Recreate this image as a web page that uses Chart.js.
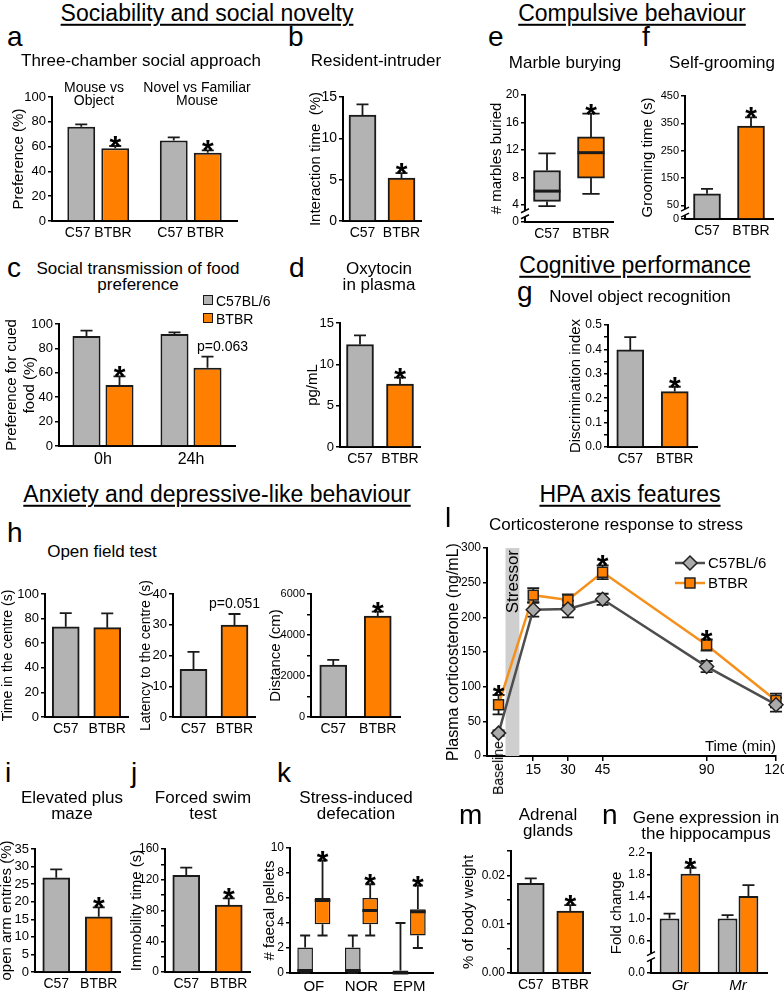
<!DOCTYPE html>
<html>
<head>
<meta charset="utf-8">
<title>BTBR vs C57BL/6 phenotype</title>
<script src="https://cdn.jsdelivr.net/npm/chart.js@4.4.1/dist/chart.umd.min.js"></script>
<style>
  body { margin: 0; background: #fff; }
  #fig { position: relative; width: 784px; height: 992px; overflow: hidden; background: #fff;
         font-family: 'Liberation Sans', Arial, sans-serif; color: #000; }
  #fig canvas { position: absolute; }
  .t { position: absolute; white-space: nowrap; text-align: center; line-height: 1.15; }
  .h { font-size: 23px; text-decoration: underline; text-decoration-thickness: 1.5px; text-underline-offset: 3px; }
  .s { font-size: 17px; line-height: 16px; }
  .u { font-size: 14px; line-height: 13px; }
  .k { font-size: 14px; }
  .L { position: absolute; font-size: 28px; line-height: 28px; }
  .sw { position: absolute; width: 8px; height: 8px; border: 1.5px solid #1a1a1a; }
</style>
</head>
<body>
<div id="fig"></div>
<script>
// ---- data ----
const strains = ['C57', 'BTBR'];

// a  three-chamber social approach (%)
const chamberTests = ['Mouse vs\nObject', 'Novel vs Familiar\nMouse'];
const chamberC57 = [76, 65];
const chamberC57Err = [2, 2.4];
const chamberBTBR = [58.6, 55];
const chamberBTBRErr = [1.9, 1.9];

// b  resident-intruder (%)
const intruder = [12.8, 5.2];
const intruderErr = [1.3, 0.6];

// c  social transmission of food preference (%)
const stfpDelays = ['0h', '24h'];
const stfpC57 = [90.2, 91.8];
const stfpC57Err = [4.3, 1.3];
const stfpBTBR = [50, 64.2];
const stfpBTBRErr = [7, 9];

// d  oxytocin (pg/mL)
const oxytocin = [12.4, 7.6];
const oxytocinErr = [1.1, 0.8];

// e  marble burying, box plots
const marbleLow = [3.8, 5.6];
const marbleQ1 = [4.5, 7.9];
const marbleMed = [6, 11.6];
const marbleQ3 = [9, 13.9];
const marbleHigh = [11.5, 17.3];

// f  self-grooming (s)
const grooming = [92, 340];
const groomingErr = [18, 32];

// g  novel object recognition
const norIndex = [0.398, 0.227];
const norIndexErr = [0.052, 0.02];

// h  open field
const centreTime = [73.4, 72.6];
const centreTimeErr = [11, 11.7];
const centreLatency = [15.5, 29.9];
const centreLatencyErr = [5.7, 3.6];
const distance = [2537, 4927];
const distanceErr = [245, 213];

// i  elevated plus maze
const openArm = [26.8, 15.7];
const openArmErr = [2.4, 2.7];

// j  forced swim
const immobility = [125.8, 87];
const immobilityErr = [10, 8.7];

// k  stress-induced defecation, box plots
const defecationTests = ['OF', 'NOR', 'EPM'];
const pelletsC57Low = [0, 0, 0];
const pelletsC57Q1 = [0, 0, 0];
const pelletsC57Med = [0.2, 0.2, 0];
const pelletsC57Q3 = [2.05, 2.05, 0.2];
const pelletsC57High = [3, 3, 4];
const pelletsBTBRLow = [3, 3, 2];
const pelletsBTBRQ1 = [3.9, 3.9, 3];
const pelletsBTBRMed = [5.8, 5, 4.9];
const pelletsBTBRQ3 = [6, 6, 5.1];
const pelletsBTBRHigh = [9, 7.1, 7];

// l  corticosterone time course (ng/mL)
const cortTimes = [0, 15, 30, 45, 90, 120];
const cortTicks = [15, 30, 45, 90, 120];
const cortC57 = [33, 211, 212, 226, 129, 74];
const cortC57Err = [4, 10, 12, 8, 8, 10];
const cortBTBR = [74, 232, 225, 265, 160, 80];
const cortBTBRErr = [14, 10, 8, 10, 8, 10];
const cortMarks = ['*', '', '', '*', '*', ''];
const stressorWindow = [3, 9];

// m  adrenal glands (% body weight)
const adrenal = [0.0184, 0.0127];
const adrenalErr = [0.001, 0.0012];

// n  hippocampal gene expression (fold change)
const genes = ['Gr', 'Mr'];
const geneC57 = [1.0, 1.0];
const geneC57Err = [0.09, 0.06];
const geneBTBR = [1.82, 1.41];
const geneBTBRErr = [0.11, 0.2];

// ---- styling ----
const GRAY = '#b3b3b3', ORANGE = '#ff8000', INK = '#1a1a1a';
const strainColors = [GRAY, ORANGE];
const FONT = "'Liberation Sans', Arial, sans-serif";

Chart.defaults.font.family = FONT;
Chart.defaults.color = '#000';
Chart.defaults.animation = false;
Chart.defaults.plugins.legend.display = false;
Chart.defaults.plugins.tooltip.enabled = false;

// ---- plugins ----
function whisker(ctx, x, y0, y1, cap) {
  ctx.save();
  ctx.strokeStyle = INK;
  ctx.lineWidth = 1.8;
  ctx.beginPath();
  ctx.moveTo(x, y0); ctx.lineTo(x, y1);
  ctx.moveTo(x - cap, y1); ctx.lineTo(x + cap, y1);
  ctx.stroke();
  ctx.restore();
}

// '*' sits just above the error cap, p-values are plain text
function mark(ctx, m, x, y) {
  const text = typeof m === 'string' ? m : m.text;
  const dx = typeof m === 'string' ? 0 : (m.dx || 0);
  ctx.save();
  ctx.fillStyle = '#000';
  ctx.textAlign = 'center';
  if (text === '*') {
    ctx.font = 'bold 30px ' + FONT;
    ctx.textBaseline = 'alphabetic';
    ctx.fillText('*', x + dx, y + 10);
  } else {
    ctx.font = '14px ' + FONT;
    ctx.textBaseline = 'bottom';
    ctx.fillText(text, x + dx, y - 3);
  }
  ctx.restore();
}

function eachPoint(chart, fn) {
  chart.data.datasets.forEach((ds, i) => {
    const meta = chart.getDatasetMeta(i);
    const ys = chart.scales[meta.yAxisID];
    meta.data.forEach((el, j) => fn(ds, el, j, ys));
  });
}

function valueOf(raw) {
  if (Array.isArray(raw)) return raw[1];
  return typeof raw === 'object' ? raw.y : raw;
}

const errPlugin = {
  id: 'errs',
  beforeDatasetsDraw(chart) {
    eachPoint(chart, (ds, el, j, ys) => {
      if (!ds.errors || !ds.twoSided) return;
      const v = valueOf(ds.data[j]), e = ds.errors[j];
      whisker(chart.ctx, el.x, ys.getPixelForValue(v), ys.getPixelForValue(v + e), ds.cap || 6);
      whisker(chart.ctx, el.x, ys.getPixelForValue(v), ys.getPixelForValue(v - e), ds.cap || 6);
    });
  },
  afterDatasetsDraw(chart) {
    const ctx = chart.ctx;
    eachPoint(chart, (ds, el, j, ys) => {
      let top = el.y;
      if (ds.box) {
        const [q1, q3] = ds.data[j];
        const cap = el.width * 0.32;
        whisker(ctx, el.x, ys.getPixelForValue(q3), ys.getPixelForValue(ds.box.hi[j]), cap);
        whisker(ctx, el.x, ys.getPixelForValue(q1), ys.getPixelForValue(ds.box.lo[j]), cap);
        const ym = ys.getPixelForValue(ds.box.med[j]);
        ctx.save();
        ctx.strokeStyle = INK;
        ctx.lineWidth = 3;
        ctx.beginPath();
        ctx.moveTo(el.x - el.width / 2, ym);
        ctx.lineTo(el.x + el.width / 2, ym);
        ctx.stroke();
        ctx.restore();
        top = ys.getPixelForValue(ds.box.hi[j]);
      } else if (ds.errors) {
        const v = valueOf(ds.data[j]);
        top = ys.getPixelForValue(v + ds.errors[j]);
        if (!ds.twoSided) whisker(ctx, el.x, ys.getPixelForValue(v), top, ds.cap || 6);
      }
      if (ds.marks && ds.marks[j]) mark(ctx, ds.marks[j], el.x, top);
    });
  }
};

const breakPlugin = {
  id: 'axisBreak',
  afterDraw(chart, args, o) {
    if (!o || o.at == null) return;
    const ctx = chart.ctx;
    const x = chart.chartArea.left;
    const y = chart.scales.y.getPixelForValue(o.at);
    ctx.save();
    ctx.fillStyle = '#fff';
    ctx.fillRect(x - 3, y - 3, 6, 6);
    ctx.strokeStyle = '#000';
    ctx.lineWidth = 1.5;
    ctx.beginPath();
    ctx.moveTo(x - 4, y - 1); ctx.lineTo(x + 4, y - 5);
    ctx.moveTo(x - 4, y + 5); ctx.lineTo(x + 4, y + 1);
    ctx.stroke();
    ctx.restore();
  }
};

const stressorPlugin = {
  id: 'stressor',
  beforeDatasetsDraw(chart, args, o) {
    if (!o || o.from == null) return;
    const {ctx, chartArea, scales} = chart;
    const x0 = scales.x.getPixelForValue(o.from), x1 = scales.x.getPixelForValue(o.to);
    ctx.save();
    ctx.fillStyle = '#cfcfcf';
    ctx.fillRect(x0, chartArea.top, x1 - x0, chartArea.bottom - chartArea.top);
    ctx.translate((x0 + x1) / 2, chartArea.top + 2);
    ctx.rotate(-Math.PI / 2);
    ctx.fillStyle = '#000';
    ctx.font = '17px ' + FONT;
    ctx.textAlign = 'right';
    ctx.textBaseline = 'middle';
    ctx.fillText(o.text, 0, 1);
    ctx.restore();
  }
};

function drawMarker(ctx, ds, x, y) {
  const r = ds.pointRadius;
  ctx.beginPath();
  if (ds.pointStyle === 'rectRot') {
    ctx.moveTo(x, y - r); ctx.lineTo(x + r, y); ctx.lineTo(x, y + r); ctx.lineTo(x - r, y);
    ctx.closePath();
  } else {
    const s = r * Math.SQRT1_2;
    ctx.rect(x - s, y - s, 2 * s, 2 * s);
  }
  ctx.fillStyle = ds.pointBackgroundColor;
  ctx.fill();
  ctx.strokeStyle = ds.pointBorderColor;
  ctx.lineWidth = ds.pointBorderWidth;
  ctx.stroke();
}

const keyPlugin = {
  id: 'lineKey',
  afterDraw(chart, args, o) {
    if (!o || o.x == null) return;
    const ctx = chart.ctx;
    const ox = chart.canvas.offsetLeft, oy = chart.canvas.offsetTop;
    chart.data.datasets.forEach((ds, i) => {
      const x = o.x - ox, y = o.y + i * o.gap - oy;
      ctx.save();
      ctx.strokeStyle = ds.borderColor;
      ctx.lineWidth = ds.borderWidth;
      ctx.beginPath(); ctx.moveTo(x, y); ctx.lineTo(x + 30, y); ctx.stroke();
      drawMarker(ctx, ds, x + 15, y);
      ctx.fillStyle = '#000';
      ctx.font = '15px ' + FONT;
      ctx.textBaseline = 'middle';
      ctx.fillText(ds.label, x + 33, y + 1);
      ctx.restore();
    });
  }
};

Chart.register(stressorPlugin, errPlugin, breakPlugin, keyPlugin);

// ---- helpers ----
const fig = document.getElementById('fig');

function panel(box, config) {
  const p = Object.assign({padL: 40, padR: 5, padT: 30, padB: 24}, box);
  const c = document.createElement('canvas');
  c.width = p.r - p.l + p.padL + p.padR;
  c.height = p.b - p.t + p.padT + p.padB;
  c.style.left = (p.l - p.padL) + 'px';
  c.style.top = (p.t - p.padT) + 'px';
  fig.appendChild(c);
  const o = config.options;
  o.responsive = false;
  o.devicePixelRatio = 1;
  o.layout = {padding: {top: p.padT, right: p.padR, left: 0, bottom: 0}};
  o.scales.x.afterFit = s => { s.height = p.padB; };
  o.scales.y.afterFit = s => { s.width = p.padL; };
  return new Chart(c, config);
}

function yAxis(min, max, title, o = {}) {
  const ax = {
    type: 'linear', min, max,
    grid: {drawOnChartArea: false, color: '#000', lineWidth: 1.5, tickLength: 4},
    border: {color: '#000', width: 2},
    ticks: {
      font: {size: o.size || 13}, padding: 2, autoSkip: false, stepSize: o.step,
      callback: v => {
        if (o.fmt) return o.fmt(v);
        if (o.every && Math.abs(v / o.every - Math.round(v / o.every)) > 1e-6) return '';
        return o.dec != null ? v.toFixed(o.dec) : String(v);
      }
    },
    title: {display: true, text: title, font: {size: o.titleSize || 15}, padding: 0}
  };
  if (o.ticks) ax.afterBuildTicks = s => { s.ticks = o.ticks.map(value => ({value})); };
  return ax;
}

function xAxis(o = {}) {
  const ax = {
    type: 'category', offset: true,
    grid: {display: false, drawTicks: false},
    border: {color: '#000', width: 2},
    ticks: {font: Object.assign({size: 14}, o.font || {}), padding: o.padding != null ? o.padding : 4,
            maxRotation: 0, autoSkip: false}
  };
  if (o.callback) ax.ticks.callback = o.callback;
  return ax;
}

function bars(data, errors, color, marks) {
  return {data, errors, marks, backgroundColor: color, borderColor: INK, borderWidth: 2, borderSkipped: 'start'};
}

function strainPanel(box, values, errs, marks, y, extra) {
  const ds = bars(values, errs, strainColors, marks);
  ds.barThickness = 27;
  return panel(box, {
    type: 'bar',
    data: {labels: strains, datasets: [ds]},
    options: {scales: {x: xAxis(), y}, plugins: extra || {}}
  });
}

function txt(html, x, y, cls, anchor) {
  const d = document.createElement('div');
  d.className = 't ' + (cls || '');
  d.innerHTML = html;
  d.style.left = x + 'px';
  d.style.top = y + 'px';
  const tx = anchor === 'l' ? '0' : anchor === 'r' ? '-100%' : '-50%';
  d.style.transform = `translate(${tx},-50%)`;
  fig.appendChild(d);
  return d;
}

function letter(ch, x, baseline) {
  const d = document.createElement('div');
  d.className = 'L';
  d.textContent = ch;
  d.style.left = x + 'px';
  d.style.top = (baseline - 24) + 'px';
  fig.appendChild(d);
}

// ---- a ----
panel({l: 52, t: 97, r: 237, b: 221, padL: 42}, {
  type: 'bar',
  data: {labels: chamberTests, datasets: [
    bars(chamberC57, chamberC57Err, GRAY),
    bars(chamberBTBR, chamberBTBRErr, ORANGE, ['*', '*'])
  ]},
  options: {
    datasets: {bar: {categoryPercentage: 0.735, barPercentage: 0.82}},
    scales: {x: xAxis({callback: () => strains.join(' ')}), y: yAxis(0, 100, 'Preference (%)', {step: 20})}
  }
});

// ---- b ----
strainPanel({l: 343, t: 97, r: 421, b: 221, padL: 36}, intruder, intruderErr, ['', '*'],
  yAxis(0, 15, 'Interaction time  (%)', {step: 5, size: 14}));

// ---- c ----
panel({l: 59, t: 324, r: 235, b: 446, padL: 56, padR: 22}, {
  type: 'bar',
  data: {labels: stfpDelays, datasets: [
    bars(stfpC57, stfpC57Err, GRAY),
    bars(stfpBTBR, stfpBTBRErr, ORANGE, ['*', {text: 'p=0.063', dx: 15}])
  ]},
  options: {
    datasets: {bar: {categoryPercentage: 0.75, barPercentage: 0.85}},
    scales: {x: xAxis({font: {size: 16}}), y: yAxis(0, 100, ['Preference for cued', 'food (%)'], {step: 20})}
  }
});

// ---- d ----
strainPanel({l: 340, t: 323, r: 420, b: 447, padL: 36}, oxytocin, oxytocinErr, ['', '*'],
  yAxis(0, 15, 'pg/mL', {step: 5}));

// ---- e ----
panel({l: 525, t: 95, r: 613, b: 222, padL: 37}, {
  type: 'bar',
  data: {labels: strains, datasets: [{
    data: marbleQ1.map((q, i) => [q, marbleQ3[i]]),
    box: {lo: marbleLow, med: marbleMed, hi: marbleHigh},
    marks: ['', '*'],
    backgroundColor: strainColors, borderColor: INK, borderWidth: 2, borderSkipped: false, barThickness: 27
  }]},
  options: {
    scales: {x: xAxis(), y: yAxis(1.5, 20, '# marbles buried', {ticks: [1.5, 4, 8, 12, 16, 20], size: 12,
      fmt: v => v === 1.5 ? '0' : String(v)})},
    plugins: {axisBreak: {at: 2.7}}
  }
});

// ---- f ----
strainPanel({l: 685, t: 96, r: 773, b: 219, padL: 46}, grooming, groomingErr, ['', '*'],
  yAxis(0, 450, 'Grooming time (s)', {ticks: [0, 50, 150, 250, 350, 450], size: 11}),
  {axisBreak: {at: 25}});

// ---- g ----
strainPanel({l: 608, t: 325, r: 697, b: 447, padL: 41}, norIndex, norIndexErr, ['', '*'],
  yAxis(0, 0.5, 'Discrimination index', {step: 0.05, every: 0.1, dec: 1, size: 12}));

// ---- h ----
strainPanel({l: 45, t: 594, r: 128, b: 717, padL: 45}, centreTime, centreTimeErr, ['', ''],
  yAxis(0, 100, 'Time in the centre (s)', {step: 20, titleSize: 14}));
strainPanel({l: 173, t: 594, r: 255, b: 717, padL: 35}, centreLatency, centreLatencyErr, ['', 'p=0.051'],
  yAxis(0, 40, 'Latency to the centre (s)', {step: 10, titleSize: 14}));
strainPanel({l: 311, t: 594, r: 400, b: 717, padL: 44}, distance, distanceErr, ['', '*'],
  yAxis(0, 6000, 'Distance (cm)', {step: 1000, every: 2000, size: 11}));

// ---- i ----
strainPanel({l: 35, t: 849, r: 120, b: 972, padL: 37}, openArm, openArmErr, ['', '*'],
  yAxis(0, 35, 'open arm entries (%)', {step: 5}));

// ---- j ----
strainPanel({l: 165, t: 849, r: 250, b: 972, padL: 37}, immobility, immobilityErr, ['', '*'],
  yAxis(0, 160, 'Immobility time (s)', {step: 20, every: 40, size: 12}));

// ---- k ----
function boxSet(lo, q1, med, q3, hi, color, marks) {
  return {
    data: q1.map((q, i) => [q, q3[i]]), box: {lo, med, hi}, marks,
    backgroundColor: color, borderColor: INK, borderWidth: 1.5, borderSkipped: false
  };
}
panel({l: 290, t: 848, r: 433, b: 973, padL: 29}, {
  type: 'bar',
  data: {labels: defecationTests, datasets: [
    boxSet(pelletsC57Low, pelletsC57Q1, pelletsC57Med, pelletsC57Q3, pelletsC57High, GRAY),
    boxSet(pelletsBTBRLow, pelletsBTBRQ1, pelletsBTBRMed, pelletsBTBRQ3, pelletsBTBRHigh, ORANGE, ['*', '*', '*'])
  ]},
  options: {
    datasets: {bar: {categoryPercentage: 0.73, barPercentage: 0.9}},
    scales: {x: xAxis({font: {size: 15}, padding: 5}), y: yAxis(0, 10, '# faecal pellets', {step: 2, size: 12})}
  }
});

// ---- l ----
panel({l: 487, t: 548, r: 776, b: 756, padL: 43, padR: 14, padT: 20, padB: 22}, {
  type: 'line',
  data: {datasets: [
    {label: 'C57BL/6', data: cortTimes.map((t, i) => ({x: t, y: cortC57[i]})),
     errors: cortC57Err, twoSided: true, cap: 6, clip: false,
     borderColor: '#4d4d4d', borderWidth: 2.5, pointStyle: 'rectRot', pointRadius: 7,
     pointBackgroundColor: '#aaaaaa', pointBorderColor: '#222', pointBorderWidth: 1.5},
    {label: 'BTBR', data: cortTimes.map((t, i) => ({x: t, y: cortBTBR[i]})),
     errors: cortBTBRErr, twoSided: true, cap: 6, clip: false, marks: cortMarks,
     borderColor: '#f5901c', borderWidth: 2.5, pointStyle: 'rect', pointRadius: 7,
     pointBackgroundColor: ORANGE, pointBorderColor: '#222', pointBorderWidth: 1.5}
  ]},
  options: {
    scales: {
      x: {type: 'linear', min: -5, max: 120,
          afterBuildTicks: s => { s.ticks = cortTicks.map(value => ({value})); },
          grid: {drawOnChartArea: false, color: '#000', lineWidth: 1.5, tickLength: 5},
          border: {color: '#000', width: 2},
          ticks: {font: {size: 14}, padding: 1, maxRotation: 0, autoSkip: false}},
      y: yAxis(0, 300, 'Plasma corticosterone (ng/mL)', {step: 50, size: 12, titleSize: 16})
    },
    plugins: {
      stressor: {from: stressorWindow[0], to: stressorWindow[1], text: 'Stressor'},
      lineKey: {x: 675, y: 563, gap: 20}
    }
  }
});

// ---- m ----
strainPanel({l: 511, t: 851, r: 590, b: 973, padL: 51}, adrenal, adrenalErr, ['', '*'],
  yAxis(0, 0.025, '% of body weight', {step: 0.005, every: 0.01, dec: 2, size: 12}));

// ---- n ----
panel({l: 651, t: 853, r: 767, b: 973, padL: 43}, {
  type: 'bar',
  data: {labels: genes, datasets: [
    bars(geneC57, geneC57Err, GRAY),
    bars(geneBTBR, geneBTBRErr, ORANGE, ['*', ''])
  ]},
  options: {
    datasets: {bar: {categoryPercentage: 0.72, barPercentage: 0.95}},
    scales: {x: xAxis({font: {size: 15, style: 'italic'}}),
             y: yAxis(0, 2.2, 'Fold change', {ticks: [0, 0.6, 1.0, 1.4, 1.8, 2.2], dec: 1, size: 12})},
    plugins: {axisBreak: {at: 0.3}}
  }
});

// ---- headings ----
txt('Sociability and social novelty', 207, 13, 'h');
txt('Compulsive behaviour', 632, 13, 'h');
txt('Cognitive performance', 635, 265, 'h');
txt('Anxiety and depressive-like behaviour', 217, 494, 'h');
txt('HPA axis features', 630, 494, 'h');

// ---- panel letters ----
letter('a', 7, 47); letter('b', 288, 47); letter('e', 488, 47); letter('f', 642, 47);
letter('c', 7, 278); letter('d', 289, 278); letter('g', 517, 302);
letter('h', 7, 543); letter('l', 445, 528);
letter('i', 5, 783); letter('j', 131, 783); letter('k', 277, 783);
letter('m', 459, 825); letter('n', 602, 825);

// ---- panel titles ----
txt('Three-chamber social approach', 141, 61, 's');
txt(chamberTests[0].replace('\n', '<br>'), 94, 94, 'u');
txt(chamberTests[1].replace('\n', '<br>'), 197, 94, 'u');
txt('Resident-intruder', 376, 61, 's');
txt('Marble burying', 565, 63, 's');
txt('Self-grooming', 722, 63, 's');
txt('Social transmission of food<br>preference', 138, 277, 's');
txt('Oxytocin<br>in plasma', 379, 277, 's');
txt('Novel object recognition', 640, 297, 's');
txt('Open field test', 102, 552, 's');
txt('Elevated plus<br>maze', 72, 806, 's');
txt('Forced swim<br>test', 203, 806, 's');
txt('Stress-induced<br>defecation', 356, 806, 's');
txt('Corticosterone response to stress', 616, 525, 's');
txt('Adrenal<br>glands', 548, 823, 's');
txt('Gene expression in<br>the hippocampus', 706, 826, 's');

// ---- legend for c ----
function swatch(color, x, y) {
  const d = document.createElement('div');
  d.className = 'sw';
  d.style.left = x + 'px';
  d.style.top = y + 'px';
  d.style.background = color;
  fig.appendChild(d);
}
swatch(GRAY, 203, 295);
txt('C57BL/6', 216, 301, 'k', 'l');
swatch(ORANGE, 203, 313);
txt('BTBR', 216, 319, 'k', 'l');

// ---- extra text in l ----
txt('Time (min)', 776, 746, 'k', 'r').style.fontSize = '15px';
const base = txt('Baseline', 498, 768, 'k');
base.style.transform = 'translate(-50%,-50%) rotate(-90deg)';
</script>
</body>
</html>
